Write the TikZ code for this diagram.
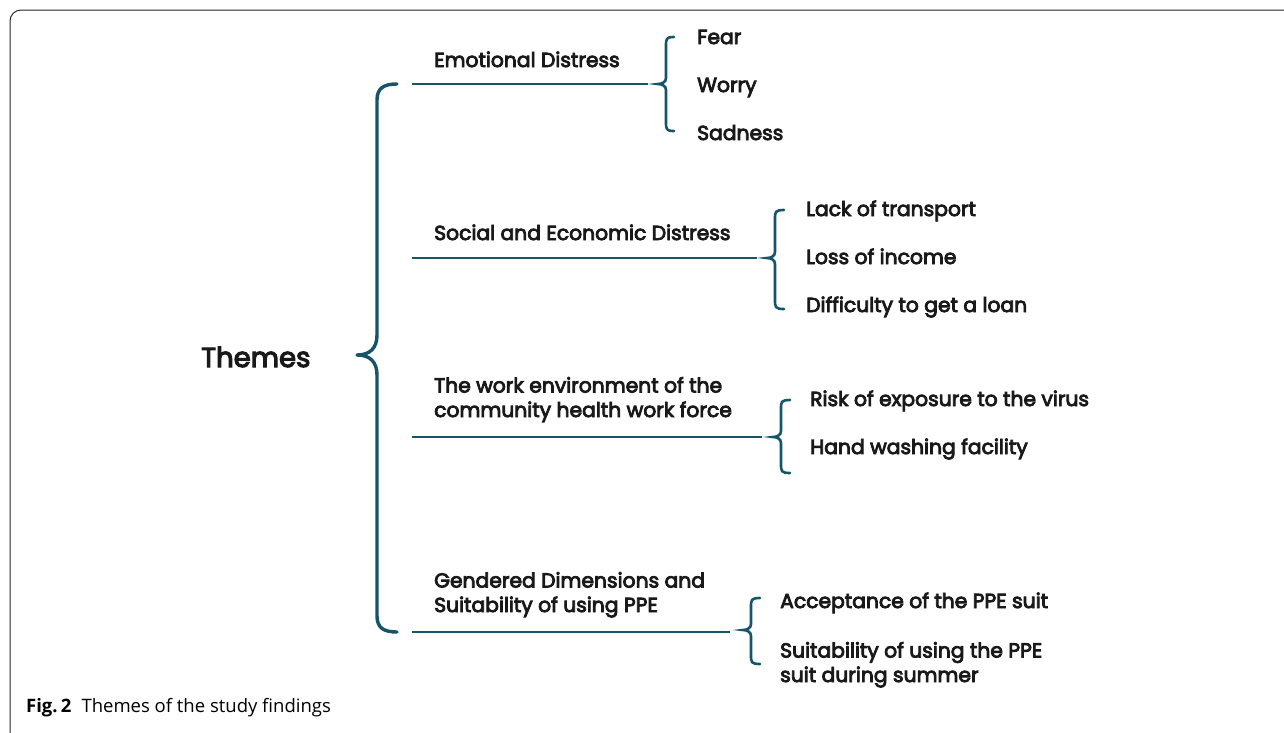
\documentclass[tikz,border=0pt]{standalone}
\usepackage{fontspec}
\setmainfont{Poppins}
\newfontfamily\medfont{Poppins}[FakeBold=4]
\newfontfamily\capfont{Open Sans}
\definecolor{tealc}{RGB}{22,84,104}
\definecolor{inkc}{RGB}{25,25,25}
\newcommand\smallbracepath[5]{% tip x, top y, tip y, bottom y, hook end x
  \draw[sbrc] (#5,#2) .. controls ({#1+8},#2) and ({#1+8},{#2+2}) .. ({#1+8},{#2+9})
    -- ({#1+8},{#3-6}) .. controls ({#1+8},{#3-2}) and ({#1+4},#3) .. (#1,#3)
    .. controls ({#1+4},#3) and ({#1+8},{#3+2}) .. ({#1+8},{#3+6})
    -- ({#1+8},{#4-9}) .. controls ({#1+8},{#4-2}) and ({#1+8},#4) .. (#5,#4);}
\begin{document}
\begin{tikzpicture}[x=1pt,y=-1pt,
  brc/.style={draw=tealc, line width=3.4pt, line cap=round, line join=round},
  sbrc/.style={draw=tealc, line width=2.6pt, line cap=round},
  link/.style={draw=tealc, line width=2.8pt},
  theme/.style={anchor=base west, inner sep=0pt, text=inkc, font=\medfont\fontsize{20.3}{24.5}\selectfont, align=left},
  item/.style={anchor=base west, inner sep=0pt, text=inkc, font=\medfont\fontsize{20.3}{24.5}\selectfont, align=left},
  frame/.style={draw=black!85, line width=1pt, rounded corners=11pt}
 ]
\useasboundingbox[fill=white] (0,0) rectangle (1284,732);
\draw[frame] (10,740) -- (10,10) -- (1290,10);

% main label
\node[anchor=base west, inner sep=0pt, text=inkc, font=\medfont\fontsize{27.5}{30}\selectfont] (themes) at (201,367) {Themes};

% big brace
\coordinate (bt) at (357,355);
\draw[brc] (397,84) .. controls (384,84) and (377,88) .. (377,100) -- (377,335)
  .. controls (377,348) and (370,355) .. (bt)
  .. controls (370,355) and (377,362) .. (377,375) -- (377,616)
  .. controls (377,628) and (384,632) .. (397,632);

% theme labels (base anchor = last line)
\node[theme] (t1) at (434,67) {Emotional Distress};
\node[theme] (t2) at (434,240) {Social and Economic Distress};
\node[theme] (t3) at (434,417) {The work environment of the\\community health work force};
\node[theme] (t4) at (434,612) {Gendered Dimensions and\\Suitability of using PPE};

% connector lines
\coordinate (l1a) at (412,84);  \coordinate (l1b) at (648,84);
\coordinate (l2a) at (412,258); \coordinate (l2b) at (757,258);
\coordinate (l3a) at (412,437); \coordinate (l3b) at (762,437);
\coordinate (l4a) at (412,632); \coordinate (l4b) at (730,632);
\draw[link] (l1a) -- (l1b);
\draw[link] (l2a) -- (l2b);
\draw[link] (l3a) -- (l3b);
\draw[link] (l4a) -- (l4b);

% small braces
\smallbracepath{658}{37}{84}{131}{674}
\smallbracepath{767}{210}{258}{309}{784}
\smallbracepath{773}{400}{437}{473}{790}
\smallbracepath{743}{598}{630}{664}{760}

% items
\node[item] (i11) at (697,44) {Fear};
\node[item] (i12) at (697,92) {Worry};
\node[item] (i13) at (697,140) {Sadness};
\node[item] (i21) at (806,216) {Lack of transport};
\node[item] (i22) at (806,264) {Loss of income};
\node[item] (i23) at (806,312) {Difficulty to get a loan};
\node[item] (i31) at (810,406) {Risk of exposure to the virus};
\node[item] (i32) at (810,454) {Hand washing facility};
\node[item] (i41) at (780,608) {Acceptance of the PPE suit};
\node[item] (i42) at (780,682) {Suitability of using the PPE\\suit during summer};

% caption
\node[anchor=base west, inner sep=0pt, font=\capfont\fontsize{18.5}{22}\selectfont] (cap) at (26,712) {\textbf{Fig.\,2}\hspace{0.55em}Themes of the study findings};
\end{tikzpicture}
\end{document}
